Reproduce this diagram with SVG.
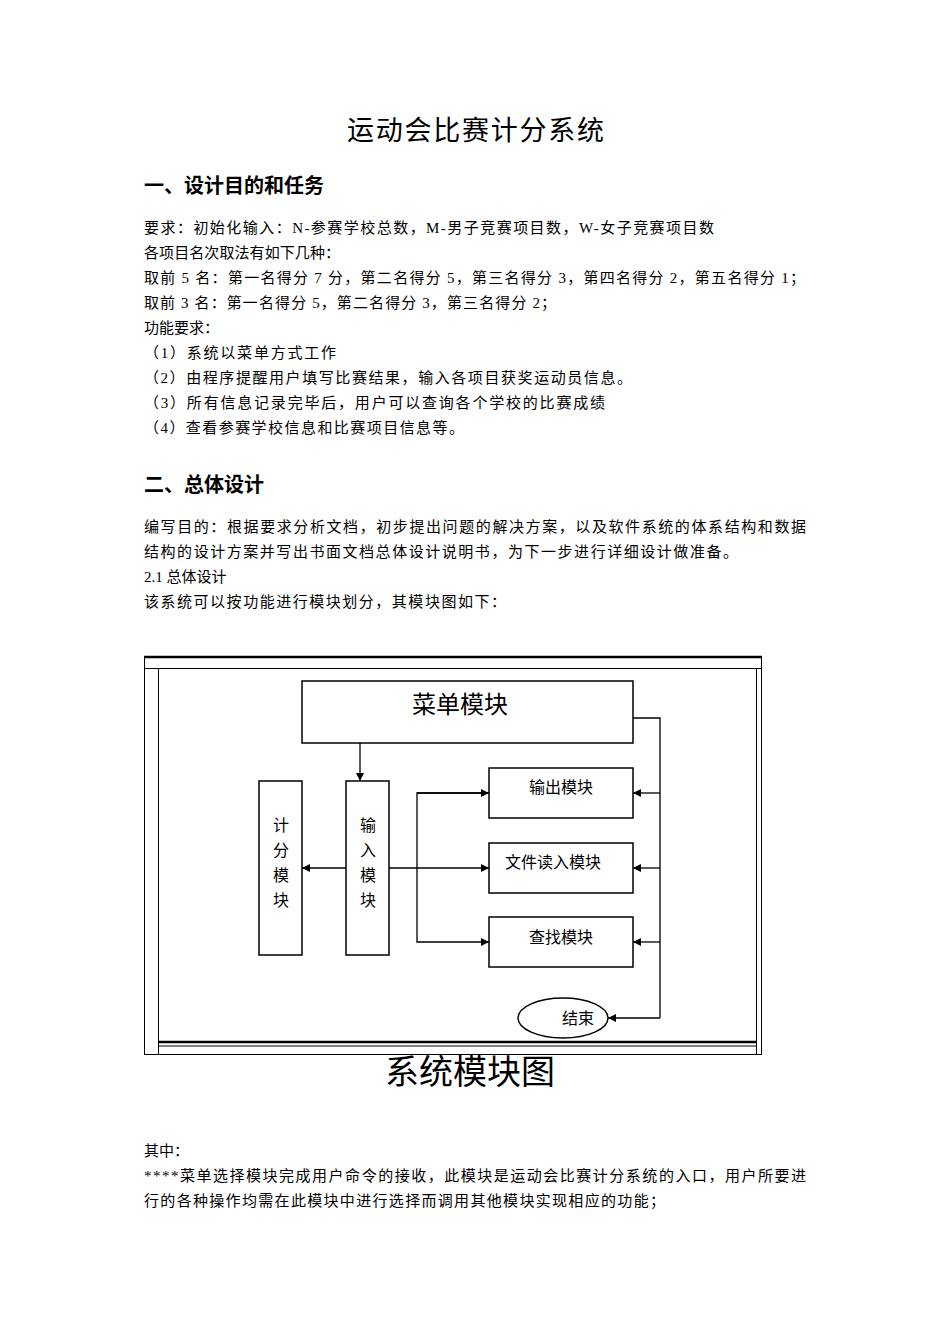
<svg xmlns="http://www.w3.org/2000/svg" width="950" height="1344" viewBox="0 0 950 1344">
<style>
text{font-family:"Liberation Serif","Noto Sans CJK SC",serif;fill:#000}
.b{font-size:15px}
.h{font-size:20px;font-weight:bold;font-family:"Noto Sans CJK SC",sans-serif}
.n{fill:#fff;stroke:#000;stroke-width:1.5}
.c{fill:none;stroke:#000;stroke-width:1.3}
.l{font-size:16px;font-family:"Noto Sans CJK SC",sans-serif}
</style>
<defs><marker id="a" markerWidth="8" markerHeight="8" refX="8" refY="4" orient="auto" markerUnits="userSpaceOnUse"><path d="M0,0L8,4L0,8z" fill="#000"/></marker></defs>
<rect width="950" height="1344" fill="#fff"/>
<text x="347" y="140" font-size="27" textLength="257" lengthAdjust="spacing">运动会比赛计分系统</text>
<text x="144" y="193" class="h">一、设计目的和任务</text>
<g class="b">
<text x="144" y="233" textLength="570" lengthAdjust="spacing">要求：初始化输入：N-参赛学校总数，M-男子竞赛项目数，W-女子竞赛项目数</text>
<text x="144" y="258" textLength="196" lengthAdjust="spacing">各项目名次取法有如下几种：</text>
<text x="144" y="283" textLength="661" lengthAdjust="spacing">取前 5 名：第一名得分 7 分，第二名得分 5，第三名得分 3，第四名得分 2，第五名得分 1；</text>
<text x="144" y="308" textLength="412" lengthAdjust="spacing">取前 3 名：第一名得分 5，第二名得分 3，第三名得分 2；</text>
<text x="144" y="333">功能要求：</text>
<text x="144" y="358" textLength="192" lengthAdjust="spacing">（1）系统以菜单方式工作</text>
<text x="144" y="383" textLength="488" lengthAdjust="spacing">（2）由程序提醒用户填写比赛结果，输入各项目获奖运动员信息。</text>
<text x="144" y="408" textLength="461" lengthAdjust="spacing">（3）所有信息记录完毕后，用户可以查询各个学校的比赛成绩</text>
<text x="144" y="433" textLength="320" lengthAdjust="spacing">（4）查看参赛学校信息和比赛项目信息等。</text>
</g>
<text x="144" y="492" class="h">二、总体设计</text>
<g class="b">
<text x="144" y="532" textLength="662" lengthAdjust="spacing">编写目的：根据要求分析文档，初步提出问题的解决方案，以及软件系统的体系结构和数据</text>
<text x="144" y="557" textLength="594" lengthAdjust="spacing">结构的设计方案并写出书面文档总体设计说明书，为下一步进行详细设计做准备。</text>
<text x="144" y="582">2.1 总体设计</text>
<text x="144" y="607" textLength="362" lengthAdjust="spacing">该系统可以按功能进行模块划分，其模块图如下：</text>
</g>
<g id="frame" fill="none" stroke="#000">
<rect x="144.5" y="656.5" width="617" height="398" stroke-width="1"/>
<line x1="144" y1="657" x2="762" y2="657" stroke-width="2.5"/>
<line x1="144" y1="668.5" x2="762" y2="668.5"/>
<line x1="158.5" y1="668" x2="158.5" y2="1055"/>
<line x1="756.5" y1="668" x2="756.5" y2="1055"/>
<line x1="158" y1="1042" x2="757" y2="1042" stroke-width="2.5"/>
<line x1="158" y1="1046" x2="757" y2="1046"/>
</g>
<g id="menu"><rect class="n" x="302" y="681" width="331" height="62"/><text x="460" y="713" text-anchor="middle" font-size="24" style="font-family:'Noto Sans CJK SC',sans-serif">菜单模块</text></g>
<g id="score"><rect class="n" x="259" y="781" width="43" height="174"/><text class="l" x="281" text-anchor="middle"><tspan x="281" y="831">计</tspan><tspan x="281" y="856">分</tspan><tspan x="281" y="881">模</tspan><tspan x="281" y="906">块</tspan></text></g>
<g id="input"><rect class="n" x="346" y="781" width="43" height="174"/><text class="l" x="368" text-anchor="middle"><tspan x="368" y="831">输</tspan><tspan x="368" y="856">入</tspan><tspan x="368" y="881">模</tspan><tspan x="368" y="906">块</tspan></text></g>
<g id="output"><rect class="n" x="489" y="768" width="144" height="50"/><text class="l" x="561" y="793" text-anchor="middle">输出模块</text></g>
<g id="fileread"><rect class="n" x="489" y="843" width="144" height="50"/><text class="l" x="553" y="868" text-anchor="middle">文件读入模块</text></g>
<g id="search"><rect class="n" x="489" y="917" width="144" height="50"/><text class="l" x="561" y="943" text-anchor="middle">查找模块</text></g>
<g id="end"><ellipse class="n" cx="563" cy="1018" rx="45" ry="20"/><text class="l" x="578" y="1024" text-anchor="middle">结束</text></g>
<g id="connectors" class="c">
<path d="M360,743V781" marker-end="url(#a)"/>
<path d="M346,868H302" marker-end="url(#a)"/>
<path d="M389,868H489" marker-end="url(#a)"/>
<path d="M489,793H417V942H489" marker-end="url(#a)"/>
<path d="M417,793H489" marker-end="url(#a)"/>
<path d="M633,718H660V1018"/>
<path d="M660,793H633" marker-end="url(#a)"/>
<path d="M660,868H633" marker-end="url(#a)"/>
<path d="M660,942H633" marker-end="url(#a)"/>
<path d="M660,1018H608" marker-end="url(#a)"/>
</g>
<text x="470" y="1084" text-anchor="middle" font-size="34" style="font-family:'Noto Sans CJK SC',sans-serif">系统模块图</text>
<g class="b">
<text x="144" y="1156">其中：</text>
<text x="144" y="1181" textLength="662" lengthAdjust="spacing">****菜单选择模块完成用户命令的接收，此模块是运动会比赛计分系统的入口，用户所要进</text>
<text x="144" y="1206" textLength="521" lengthAdjust="spacing">行的各种操作均需在此模块中进行选择而调用其他模块实现相应的功能；</text>
</g>
</svg>
